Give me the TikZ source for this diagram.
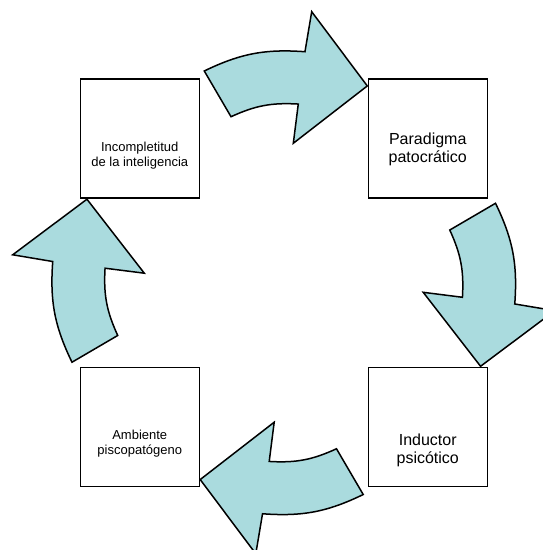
\documentclass[tikz,border=0pt]{standalone}
\usepackage{fontspec}
\setmainfont{Liberation Sans}
\usetikzlibrary{calc}

\definecolor{cyclefill}{RGB}{170,219,222}

\begin{document}
\begin{tikzpicture}[x=1pt, y=1pt,
    box/.style={draw, fill=white, line width=1.5pt, minimum size=119pt, inner sep=0pt},
    small/.style={align=center, font=\fontsize{13}{15}\selectfont},
    big/.style={align=center, font=\fontsize{16}{18}\selectfont},
    cyc/.style={draw, line width=1.5pt, fill=cyclefill}]

    \useasboundingbox (0,0) rectangle (543,550);
    \coordinate (c) at (283.75,267.25);

    % Draw the four curved arrows around the centre
    \foreach \k in {0,1,2,3} {
        \draw[cyc, shift={(c)}, rotate=-90*\k]
            (110.57:226.2) to[bend left=15] (84.75:232) -- (84.11:272.5)
            -- (67:213.8) -- (86.08:139.8) -- (85.35:179.3)
            to[bend right=14] (107.62:174.2) -- cycle;
    }

    % Draw the four boxes
    \node[box] (inc) at (139.75,411.5) {};
    \node[box] (par) at (427.75,411.5) {};
    \node[box] (ind) at (427.75,123) {};
    \node[box] (amb) at (139.75,123) {};

    % Label the boxes
    \node[small] (inc-txt) at ([yshift=-17pt]inc.center) {Incompletitud\\de la inteligencia};
    \node[big] (par-txt) at ([yshift=-11pt]par.center) {Paradigma\\patocrático};
    \node[big] (ind-txt) at ([yshift=-23pt]ind.center) {Inductor\\psicótico};
    \node[small] (amb-txt) at ([yshift=-17pt]amb.center) {Ambiente\\piscopatógeno};

\end{tikzpicture}
\end{document}
